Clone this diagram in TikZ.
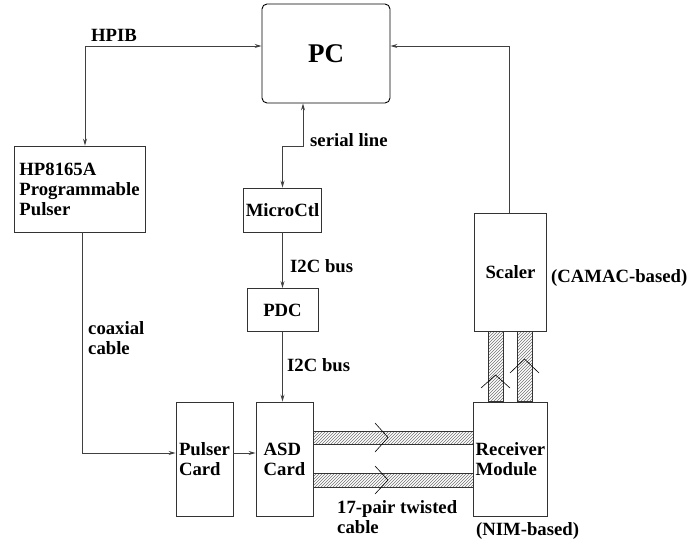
\documentclass[tikz,border=0pt]{standalone}
\usepackage{fontspec}
\setmainfont{Liberation Serif}
\usepackage{tikz}
\usetikzlibrary{positioning, arrows.meta, patterns, calc}
\tikzset{
  box/.style   = {draw=black!80, rectangle, line width=0.9pt,
                  align=left, inner sep=2pt,
                  font=\bfseries\fontsize{18.7}{20}\selectfont},
  lbl/.style   = {inner sep=0pt, align=left,
                  font=\bfseries\fontsize{18.7}{20}\selectfont},
  arr/.style   = {-{Stealth[length=7pt,width=4pt,inset=2.5pt]},
                  draw=black!75, line width=0.8pt},
  biarr/.style = {{Stealth[length=7pt,width=4pt,inset=2.5pt]}-{Stealth[length=7pt,width=4pt,inset=2.5pt]},
                  draw=black!75, line width=0.8pt},
  cable/.style = {draw=black!80, line width=0.8pt,
                  pattern=north east lines, pattern color=black!55},
  chev/.style  = {draw=black, line width=0.6pt},
}
\begin{document}
\begin{tikzpicture}[x=1pt, y=-1pt]
\useasboundingbox (0,0) rectangle (689,541);

% ────────────────────────────────────────────────────────────
%  Pixel grid, y grows downwards
%   top row    : PC            y =  53
%   left col   : pulser        x =  80
%   mid col    : MicroCtl/PDC  x = 282
%   bottom row : cards         y = 459
%   right col  : scaler/recv   x = 510
% ────────────────────────────────────────────────────────────

% ═══════════════════════════════════════════════════════════
%  TOP  –  PC and the pulser
% ═══════════════════════════════════════════════════════════
\node[box, draw=black, rounded corners=5pt,
      minimum width=128pt, minimum height=99pt,
      font=\bfseries\fontsize{27}{30}\selectfont] (pc) at (326, 53.5) {PC};

\node[box, minimum width=131pt, minimum height=86pt] (hp) at (79.5, 189)
  {HP8165A\\ Programmable\\ Pulser};

\coordinate (hpib) at (85, 46);
\draw[biarr] (hp.north -| hpib) |- (pc.west |- hpib);
\node[lbl, anchor=base west] (l-hpib) at (91, 41) {HPIB};

% ═══════════════════════════════════════════════════════════
%  MIDDLE  –  serial line, MicroCtl, PDC
% ═══════════════════════════════════════════════════════════
\node[box, minimum width=71pt, minimum height=44pt] (micro) at (282.5, 210) {MicroCtl};
\node[box, minimum width=71pt, minimum height=43pt] (pdc)   at (282.5, 310) {PDC};

\coordinate (ser) at (303, 146);
\draw[biarr] (pc.south -| ser) -- (ser) -| (micro.north);
\node[lbl, anchor=base west] (l-ser) at (310, 146) {serial line};

\draw[arr] (micro.south) -- (pdc.north);
\node[lbl, anchor=base west] (l-i2c1) at (290, 272) {I2C bus};

% ═══════════════════════════════════════════════════════════
%  BOTTOM  –  cards and receiver
% ═══════════════════════════════════════════════════════════
\node[box, minimum width=57pt, minimum height=114pt] (pulser) at (204.5, 459) {Pulser\\ Card};
\node[box, minimum width=57pt, minimum height=114pt] (asd)    at (284.5, 459) {ASD\\ Card};
\node[box, minimum width=72.5pt, minimum height=114pt] (recv) at (510.5, 459) {Receiver\\ Module};
\node[box, minimum width=72.5pt, minimum height=118pt] (scaler) at (510.5, 272) {Scaler};

\draw[arr] (pdc.south) -- (pdc.south |- asd.north);
\node[lbl, anchor=base west] (l-i2c2) at (287, 371) {I2C bus};

\coordinate (cx) at (82, 453);
\draw[arr] (hp.south -| cx) |- (pulser.west |- cx);
\draw[arr] (pulser.east |- cx) -- (asd.west |- cx);
\node[lbl, anchor=north west] (l-coax) at (88, 321) {coaxial\\ cable};

\coordinate (sc) at (509, 46);
\draw[arr] (scaler.north -| sc) |- (pc.east |- sc);

% twisted pair cables ASD -> receiver
\draw[cable] ($(asd.east)+(0,-28)$) rectangle ($(recv.west)+(0,-15)$);
\draw[cable] ($(asd.east)+(0,14)$)  rectangle ($(recv.west)+(0,28)$);
\draw[chev] (375,423) -- (388,437.5) -- (375,452);
\draw[chev] (375,466) -- (388,480) -- (375,494);

% receiver -> scaler
\draw[cable] ($(scaler.south)+(-22.5,0)$) rectangle ($(recv.north)+(-7.5,0)$);
\draw[cable] ($(scaler.south)+(6.5,0)$)   rectangle ($(recv.north)+(21.5,0)$);
\draw[chev] (481,388) -- (495.5,375) -- (510,388);
\draw[chev] (510,373) -- (524.5,359) -- (539,373);

\node[lbl, anchor=north west] (l-tw) at (337, 500) {17-pair twisted\\ cable};
\node[lbl, anchor=base west] (l-nim) at (476, 535) {(NIM-based)};
\node[lbl, anchor=base west] (l-camac) at (551, 282) {(CAMAC-based)};

\end{tikzpicture}
\end{document}
